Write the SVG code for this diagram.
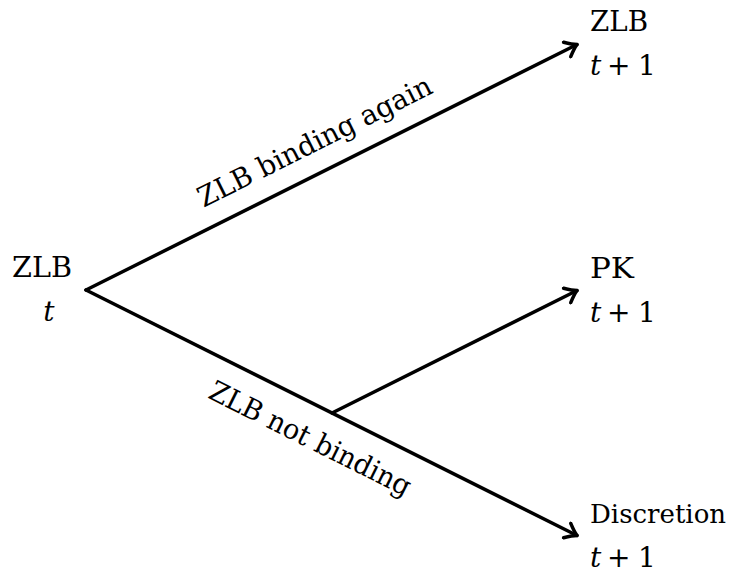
<svg xmlns="http://www.w3.org/2000/svg" width="729" height="574" viewBox="0 0 729 574">
<style>
.t{font-family:'DejaVu Serif',serif;font-size:28px;fill:#000}
.i{font-style:italic}
.e{fill:none;stroke:#000;stroke-width:3.5;stroke-linecap:round}
</style>
<defs>
<marker id="ah" markerUnits="userSpaceOnUse" markerWidth="20" markerHeight="20" viewBox="-14 -10 18 20" refX="0" refY="0" orient="auto">
<path d="M-11,-8 Q-4,-2 0,0 Q-4,2 -11,8" fill="none" stroke="#000" stroke-width="3.5" stroke-linecap="round" stroke-linejoin="round"/>
</marker>
</defs>
<rect width="729" height="574" fill="#fff"/>
<g id="connectors">
<path class="e" d="M86,290 L577,44.5" marker-end="url(#ah)"/>
<path class="e" d="M86,290 L577,535.5" marker-end="url(#ah)"/>
<path class="e" d="M332,413 L577,290.5" marker-end="url(#ah)"/>
<text class="t" transform="rotate(-26.565 319 150)" x="319" y="150" text-anchor="middle" textLength="258" lengthAdjust="spacingAndGlyphs">ZLB binding again</text>
<text class="t" transform="rotate(26.565 306 447)" x="306" y="447" text-anchor="middle" textLength="222" lengthAdjust="spacingAndGlyphs">ZLB not binding</text>
</g>
<g id="n-zlb-t">
<text class="t" x="12" y="277" textLength="60" lengthAdjust="spacingAndGlyphs">ZLB</text>
<text class="t i" x="49" y="321" text-anchor="middle">t</text>
</g>
<g id="n-zlb-t1">
<text class="t" x="590" y="31" textLength="58" lengthAdjust="spacingAndGlyphs">ZLB</text>
<text class="t" y="75"><tspan class="i" x="590">t</tspan><tspan x="607">+</tspan><tspan x="638">1</tspan></text>
</g>
<g id="n-pk-t1">
<text class="t" x="590" y="278" textLength="44" lengthAdjust="spacingAndGlyphs">PK</text>
<text class="t" y="322"><tspan class="i" x="590">t</tspan><tspan x="607">+</tspan><tspan x="638">1</tspan></text>
</g>
<g id="n-disc-t1">
<text class="t" x="590" y="523" style="font-size:26px">Discretion</text>
<text class="t" y="567"><tspan class="i" x="590">t</tspan><tspan x="607">+</tspan><tspan x="638">1</tspan></text>
</g>
</svg>
